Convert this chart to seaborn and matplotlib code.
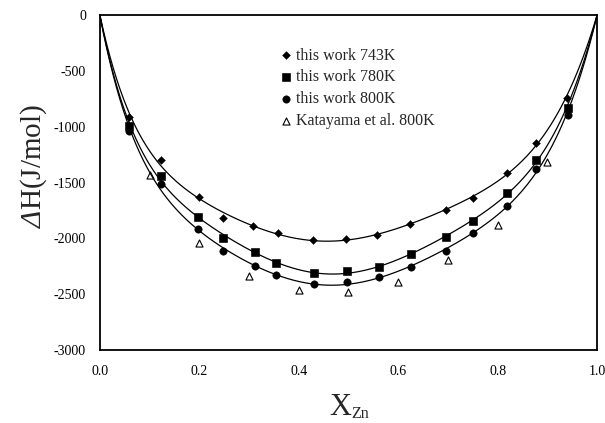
import numpy as np
import pandas as pd
import seaborn as sns
import matplotlib.pyplot as plt
from matplotlib.ticker import MultipleLocator

# values (mole fraction of Zn, enthalpy of mixing in J/mol)
x_743 = [0.058, 0.123, 0.200, 0.248, 0.308, 0.358, 0.428, 0.496, 0.557, 0.624, 0.696, 0.750, 0.819, 0.877, 0.940]
h_743 = [-913, -1298, -1630, -1818, -1889, -1952, -2015, -2006, -1970, -1871, -1746, -1639, -1415, -1146, -740]

x_780 = [0.058, 0.123, 0.197, 0.248, 0.312, 0.354, 0.430, 0.498, 0.561, 0.626, 0.696, 0.751, 0.818, 0.877, 0.941]
h_780 = [-995, -1441, -1806, -1994, -2120, -2224, -2307, -2290, -2254, -2143, -1991, -1842, -1597, -1298, -830]

x_800 = [0.058, 0.123, 0.197, 0.248, 0.312, 0.354, 0.430, 0.498, 0.561, 0.626, 0.696, 0.751, 0.818, 0.877, 0.941]
h_800 = [-1040, -1515, -1919, -2113, -2248, -2328, -2409, -2394, -2343, -2259, -2110, -1955, -1710, -1382, -895]

x_kat = [0.1, 0.2, 0.3, 0.4, 0.5, 0.6, 0.7, 0.8, 0.9]
h_kat = [-1433, -2039, -2337, -2463, -2478, -2394, -2194, -1880, -1319]

labels = ['this work 743K', 'this work 780K', 'this work 800K', 'Katayama et al. 800K']


def rk_fit(x, h, n_terms=6):
    # Redlich-Kister type fit through the end points (0 at x=0 and x=1)
    x = np.asarray(x, float)
    A = np.column_stack([x * (1 - x) * (1 - 2 * x) ** k for k in range(n_terms)])
    coef, *_ = np.linalg.lstsq(A, np.asarray(h, float), rcond=None)
    xs = np.linspace(0, 1, 300)
    Ag = np.column_stack([xs * (1 - xs) * (1 - 2 * xs) ** k for k in range(n_terms)])
    return xs, Ag @ coef


sns.set_theme(style='white')
plt.rcParams['font.family'] = ['Liberation Serif', 'DejaVu Serif']
plt.rcParams['mathtext.fontset'] = 'custom'
plt.rcParams['mathtext.rm'] = 'Liberation Serif'
plt.rcParams['mathtext.sf'] = 'Liberation Serif:italic'
plt.rcParams['axes.unicode_minus'] = False

fig, ax = plt.subplots(figsize=(6.05, 4.23), dpi=100)
fig.subplots_adjust(left=0.165, right=0.987, top=0.9645, bottom=0.1726)

# fitted curves
for x, h in [(x_743, h_743), (x_780, h_780), (x_800, h_800)]:
    xs, hs = rk_fit(x, h)
    sns.lineplot(x=xs, y=hs, ax=ax, color='black', lw=0.9, legend=False)

# measured points
sns.scatterplot(x=x_743, y=h_743, ax=ax, marker='D', s=16, color='black', edgecolor='black', label=labels[0])
sns.scatterplot(x=x_780, y=h_780, ax=ax, marker='s', s=30, color='black', edgecolor='black', label=labels[1])
sns.scatterplot(x=x_800, y=h_800, ax=ax, marker='o', s=28, color='black', edgecolor='black', label=labels[2])
sns.scatterplot(x=x_kat, y=h_kat, ax=ax, marker='^', s=26, facecolor='white', edgecolor='black',
                linewidth=0.8, label=labels[3])

ax.set_xlim(0, 1)
ax.set_ylim(-3000, 0)
ax.xaxis.set_major_locator(MultipleLocator(0.2))
ax.xaxis.set_minor_locator(MultipleLocator(0.1))
ax.yaxis.set_major_locator(MultipleLocator(500))
ax.xaxis.set_major_formatter(plt.FormatStrFormatter('%.1f'))
ax.tick_params(axis='both', which='both', direction='in', length=3, width=0.8, colors='black',
               labelsize=10)
ax.tick_params(axis='x', which='major', pad=11)
ax.tick_params(axis='y', which='major', pad=10)
ax.tick_params(axis='x', which='minor', length=3)

for side in ['left', 'bottom', 'right', 'top']:
    ax.spines[side].set_visible(True)
    ax.spines[side].set_color('black')
    ax.spines[side].set_linewidth(1.3)

# x label: big X with a small Zn subscript
ax.text(0.505, -0.195, 'X', transform=ax.transAxes, fontsize=22, ha='right', va='baseline')
ax.text(0.505, -0.204, 'Zn', transform=ax.transAxes, fontsize=11.5, ha='left', va='baseline')

ax.set_ylabel(r'$\mathsf{Δ}$H(J/mol)', fontsize=21)
ax.yaxis.set_label_coords(-0.102, 0.55)

ax.legend(loc='upper left', bbox_to_anchor=(0.345, 0.922), frameon=False, fontsize=11.5,
          handletextpad=0.15, labelspacing=0.36, borderaxespad=0, handlelength=1.0)

fig.savefig('out.png', dpi=100)
